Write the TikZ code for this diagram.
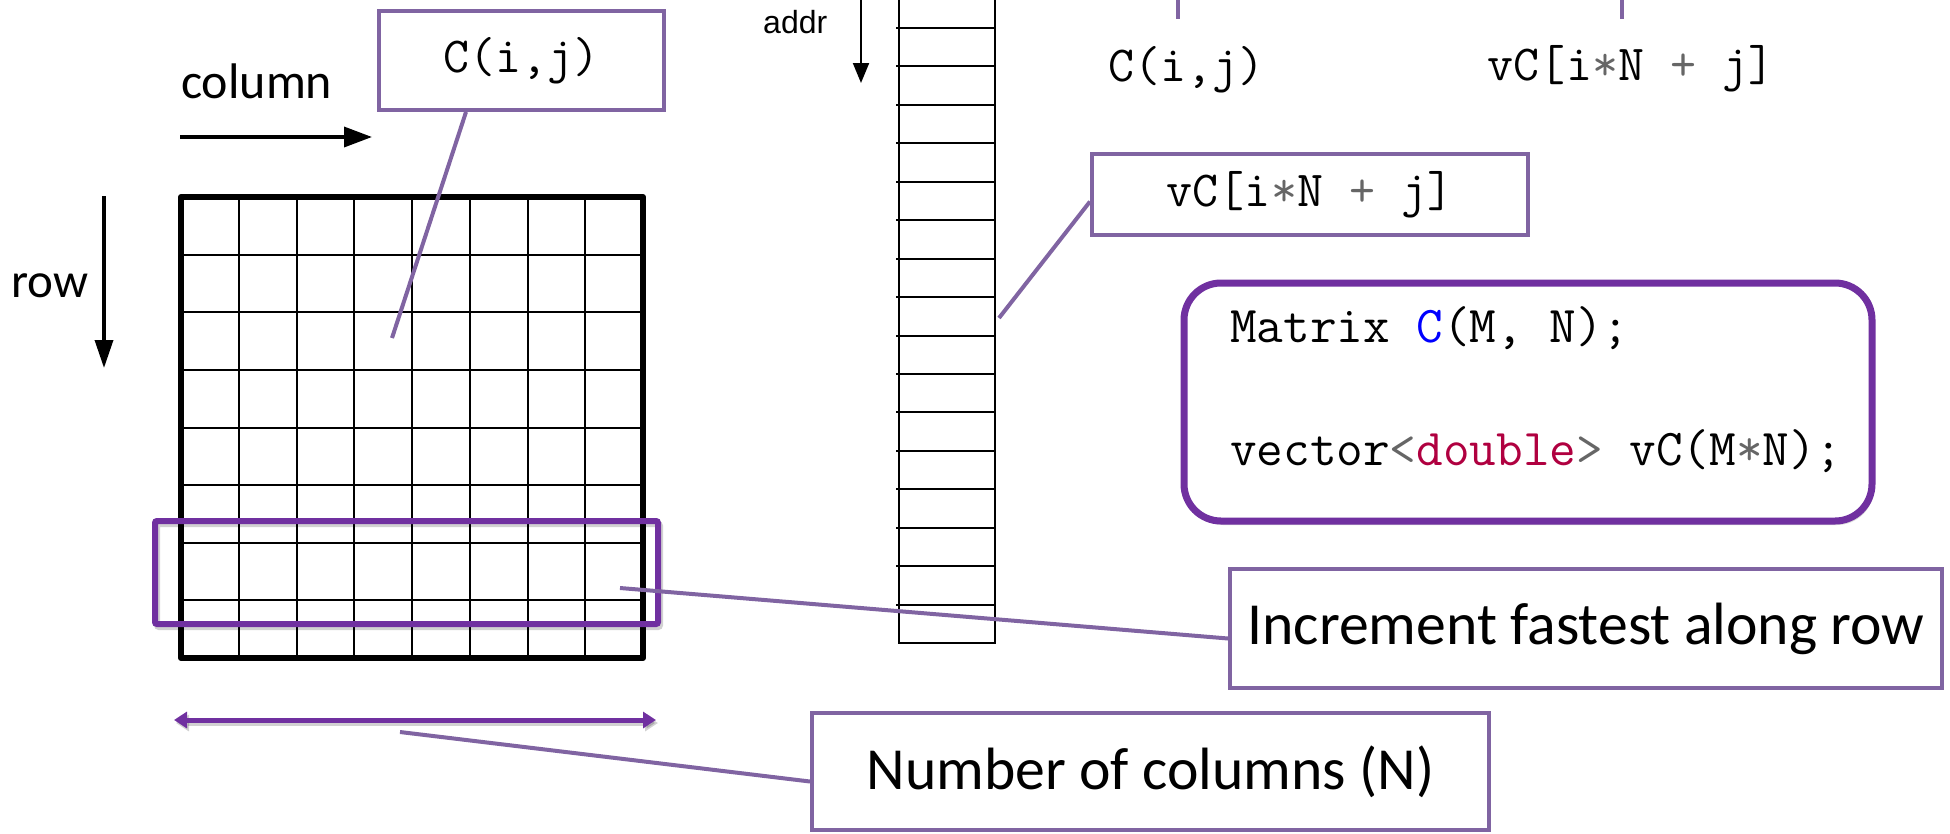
\documentclass[tikz,border=0pt]{standalone}
\usepackage{fontspec}
\usetikzlibrary{shadows,arrows.meta,calc}
\newfontfamily\carlito{Carlito}
\newfontfamily\helv{Liberation Sans}
\definecolor{lpurple}{HTML}{8064A2}
\definecolor{dpurple}{HTML}{7030A0}
\definecolor{opgray}{HTML}{666666}
\definecolor{kwtype}{HTML}{B00040}
\definecolor{fnblue}{HTML}{0000FF}
\newcommand\mycode{\fontsize{51.7}{62}\selectfont\ttfamily}
\newcommand\mysmallcode{\fontsize{50.5}{60}\selectfont\ttfamily}
\newcommand\mylabel{\fontsize{59.7}{72}\selectfont\carlito}
\begin{document}
\begin{tikzpicture}[x=1pt,y=-1pt,
  lbox/.style={draw=lpurple, line width=4pt, inner sep=0pt, fill=white, font=\mysmallcode},
  labelbox/.style={draw=lpurple, line width=4pt, inner sep=0pt, fill=white, font=\mylabel},
  conn/.style={draw=lpurple, line width=4pt},
  blackarrow/.style={draw=black, line width=3.5pt},
  thinline/.style={draw=black, line width=2pt},
  codetxt/.style={font=\mycode, inner sep=0pt, anchor=base west},
  plain/.style={inner sep=0pt, anchor=base west},
  shadowline/.style={draw=black, opacity=0.18},
]
\useasboundingbox (0,0) rectangle (1950,833);

% ---------- matrix grid ----------
\foreach \i in {1,...,7} {
  \draw[thinline] ({181+57.75*\i},197) -- ({181+57.75*\i},658);
  \draw[thinline] (181,{197+57.625*\i}) -- (643,{197+57.625*\i});
}
\draw[draw=black, line width=6pt, line join=round] (181,197) rectangle (643,658);

% ---------- highlighted row ----------
\draw[shadowline, line width=6pt, rounded corners=2pt] (157,524) rectangle (660,627);
\draw[draw=dpurple, line width=6pt, rounded corners=2pt] (155,521) rectangle (658,624);

% ---------- axis labels ----------
\node[plain, font=\fontsize{50}{60}\selectfont\carlito] (collab) at (181,98) {column};
\coordinate (colA) at (180,137);
\coordinate (colB) at (372,137);
\draw[blackarrow, -{Triangle[length=28pt,width=20pt]}] (colA) -- (colB);

\node[plain, font=\fontsize{49}{59}\selectfont\carlito] (rowlab) at (11,297) {row};
\coordinate (rowA) at (104,196);
\coordinate (rowB) at (104,368);
\draw[blackarrow, -{Triangle[length=28pt,width=18pt]}] (rowA) -- (rowB);

% ---------- width arrow ----------
\coordinate (wA) at (174,720);
\coordinate (wB) at (656,720);
\draw[shadowline, line width=5pt, {Triangle[length=13pt,width=16pt]}-{Triangle[length=13pt,width=16pt]}] ($(wA)+(2,3)$) -- ($(wB)+(2,3)$);
\draw[draw=dpurple, line width=5pt, {Triangle[length=13pt,width=16pt]}-{Triangle[length=13pt,width=16pt]}] (wA) -- (wB);

% ---------- vector column ----------
\draw[thinline] (899,-5) -- (899,643) -- (995,643) -- (995,-5);
\foreach \k in {0,...,15} {
  \draw[thinline] (896,{28+38.44*\k}) -- (995,{28+38.44*\k});
}
\node[plain, font=\fontsize{32}{38}\selectfont\helv] (addr) at (763,33) {addr};
\coordinate (addrA) at (861,-2);
\coordinate (addrB) at (861,83);
\draw[draw=black, line width=2pt, -{Triangle[length=20pt,width=16pt]}] (addrA) -- (addrB);

% ---------- label boxes ----------
\node[lbox, minimum width=285pt, minimum height=99pt] (cij) at (521.5,60.5) {C(i,j)};
\node[lbox, minimum width=436pt, minimum height=81pt] (vcbox) at (1310,194.5)
  {vC[i\textcolor{opgray}{*}N \textcolor{opgray}{+} j]};
\node[labelbox, minimum width=712pt, minimum height=119pt] (incbox) at (1586,628.5)
  {Increment fastest along row};
\node[labelbox, minimum width=677pt, minimum height=117pt] (numbox) at (1150.5,771.5)
  {Number of columns (N)};

% ---------- top texts ----------
\node[inner sep=0pt, anchor=base, font=\mysmallcode] (topcij) at (1186.5,81) {C(i,j)};
\node[inner sep=0pt, anchor=base, font=\mysmallcode] (topvc) at (1631,80)
  {vC[i\textcolor{opgray}{*}N \textcolor{opgray}{+} j]};
\coordinate (tA) at (1178,-2);
\coordinate (tB) at (1178,19);
\coordinate (tC) at (1622,-2);
\coordinate (tD) at (1622,19);
\draw[conn] (tA) -- (tB);
\draw[conn] (tC) -- (tD);

% ---------- code box ----------
\node[draw=dpurple, line width=7pt, rounded corners=37pt, fill=white,
      minimum width=688pt, minimum height=238pt,
      drop shadow={shadow xshift=2pt, shadow yshift=-4pt, opacity=0.3}] (code) at (1528,402) {};
\node[codetxt] (code1) at (1230,342) {Matrix \textcolor{fnblue}{C}(M, N);};
\node[codetxt] (code2) at (1230,465)
  {vector\textcolor{opgray}{<}\textcolor{kwtype}{double}\textcolor{opgray}{>} vC(M\textcolor{opgray}{*}N);};

% ---------- connectors ----------
\coordinate (cijEnd) at (392,338);
\draw[conn] ($(cij.south west)+(89,0)$) -- (cijEnd);
\coordinate (vcEnd) at (999,318);
\draw[conn] ($(vcbox.west)+(0,7)$) -- (vcEnd);
\coordinate (incStart) at (620,588);
\draw[conn] (incStart) -- ($(incbox.west)+(0,10)$);
\coordinate (numStart) at (400,732);
\draw[conn] (numStart) -- ($(numbox.west)+(0,10)$);
\end{tikzpicture}
\end{document}
